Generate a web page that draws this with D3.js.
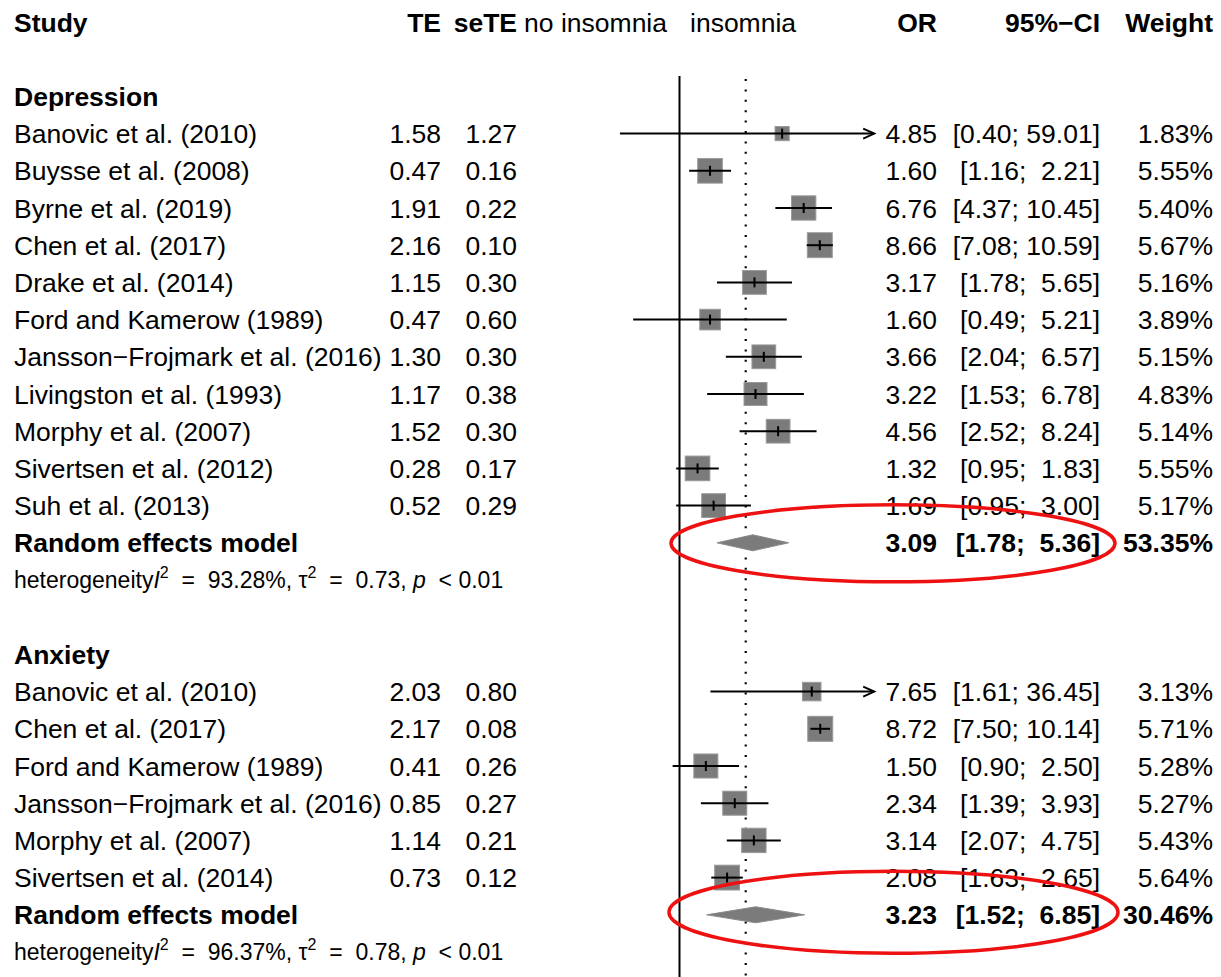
<!DOCTYPE html>
<html><head><meta charset="utf-8">
<script src="https://cdn.jsdelivr.net/npm/d3@7"></script>
<style>
html,body{margin:0;padding:0;background:#fff;}
text{font-family:"Liberation Sans",Arial,Helvetica,sans-serif;white-space:pre;}
</style></head>
<body>
<svg id="c" width="1221" height="977"></svg>
<script>
// ---------- data ----------
const headers = ["Study","TE","seTE","no insomnia","insomnia","OR","95%\u2212CI","Weight"];

const depStudies = ["Banovic et al. (2010)","Buysse et al. (2008)","Byrne et al. (2019)","Chen et al. (2017)","Drake et al. (2014)","Ford and Kamerow (1989)","Jansson\u2212Frojmark et al. (2016)","Livingston et al. (1993)","Morphy et al. (2007)","Sivertsen et al. (2012)","Suh et al. (2013)"];
const depTE   = [1.58,0.47,1.91,2.16,1.15,0.47,1.30,1.17,1.52,0.28,0.52];
const depSeTE = [1.27,0.16,0.22,0.10,0.30,0.60,0.30,0.38,0.30,0.17,0.29];
const depOR   = [4.85,1.60,6.76,8.66,3.17,1.60,3.66,3.22,4.56,1.32,1.69];
const depLo   = [0.40,1.16,4.37,7.08,1.78,0.49,2.04,1.53,2.52,0.95,0.95];
const depHi   = [59.01,2.21,10.45,10.59,5.65,5.21,6.57,6.78,8.24,1.83,3.00];
const depW    = [1.83,5.55,5.40,5.67,5.16,3.89,5.15,4.83,5.14,5.55,5.17];
const depPooled = {or:3.09, lo:1.78, hi:5.36, w:53.35, i2:"93.28%", tau2:"0.73", p:"0.01"};

const anxStudies = ["Banovic et al. (2010)","Chen et al. (2017)","Ford and Kamerow (1989)","Jansson\u2212Frojmark et al. (2016)","Morphy et al. (2007)","Sivertsen et al. (2014)"];
const anxTE   = [2.03,2.17,0.41,0.85,1.14,0.73];
const anxSeTE = [0.80,0.08,0.26,0.27,0.21,0.12];
const anxOR   = [7.65,8.72,1.50,2.34,3.14,2.08];
const anxLo   = [1.61,7.50,0.90,1.39,2.07,1.63];
const anxHi   = [36.45,10.14,2.50,3.93,4.75,2.65];
const anxW    = [3.13,5.71,5.28,5.27,5.43,5.64];
const anxPooled = {or:3.23, lo:1.52, hi:6.85, w:30.46, i2:"96.37%", tau2:"0.78", p:"0.01"};

const overallOR = 2.77;   // dotted reference line
const xLimits = [0.05, 20];

// ---------- layout ----------
const svg = d3.select("#c");
const FS = 26.5, FS2 = 23;
const rowY = d3.scaleLinear().domain([0,1]).range([22, 22+37.2]);
const x = d3.scaleLog().domain(xLimits).range([484.8, 874.2]);
const boxSide = d3.scaleSqrt().domain([0,5.71]).range([0,25]);
const col = {study:14, te:441, sete:517, left:667, right:690, or:937, ci:1100, w:1213};
const f2 = d3.format(".2f");
const pad = (s,n)=> " ".repeat(Math.max(0,n-s.length))+s;
const ciStr = (lo,hi)=> "[" + pad(f2(lo),4) + "; " + pad(f2(hi),5) + "]";

function txt(xp, y, s, opt={}){
  return svg.append("text").attr("x",xp).attr("y",y).attr("dy","0.36em")
    .attr("font-size", opt.size||FS).attr("font-weight", opt.bold?"bold":"normal")
    .attr("text-anchor", opt.anchor||"start").attr("fill","#000").text(s);
}

// header
txt(col.study, rowY(0), headers[0], {bold:true});
txt(col.te, rowY(0), headers[1], {bold:true, anchor:"end"});
txt(col.sete, rowY(0), headers[2], {bold:true, anchor:"end"});
txt(col.left, rowY(0), headers[3], {anchor:"end"});
txt(col.right, rowY(0), headers[4]);
txt(col.or, rowY(0), headers[5], {bold:true, anchor:"end"});
txt(col.ci, rowY(0), headers[6], {bold:true, anchor:"end"});
txt(col.w, rowY(0), headers[7], {bold:true, anchor:"end"});

// reference lines
const gLines = svg.append("g");
gLines.append("line").attr("x1",x(1)).attr("x2",x(1)).attr("y1",76).attr("y2",977)
  .attr("stroke","#000").attr("stroke-width",2);
gLines.append("line").attr("x1",x(overallOR)).attr("x2",x(overallOR)).attr("y1",79).attr("y2",977)
  .attr("stroke","#000").attr("stroke-width",2.2).attr("stroke-dasharray","2 8.4");

function group(label, startRow, studies, te, se, or, lo, hi, w, pooled){
  txt(col.study, rowY(startRow), label, {bold:true});
  studies.forEach((s,i)=>{
    const y = rowY(startRow+1+i);
    txt(col.study, y, s);
    txt(col.te, y, f2(te[i]), {anchor:"end"});
    txt(col.sete, y, f2(se[i]), {anchor:"end"});
    txt(col.or, y, f2(or[i]), {anchor:"end"});
    txt(col.ci, y, ciStr(lo[i],hi[i]), {anchor:"end"});
    txt(col.w, y, f2(w[i])+"%", {anchor:"end"});
    const side = boxSide(w[i]);
    svg.append("rect").attr("x",x(or[i])-side/2).attr("y",y-side/2)
      .attr("width",side).attr("height",side).attr("fill","#7b7b7b").attr("stroke","#9a9a9a").attr("stroke-width",1);
    const xl = x(Math.max(lo[i], xLimits[0])), xr = x(Math.min(hi[i], xLimits[1]));
    svg.append("line").attr("x1",xl).attr("x2",xr).attr("y1",y).attr("y2",y)
      .attr("stroke","#000").attr("stroke-width",2);
    svg.append("line").attr("x1",x(or[i])).attr("x2",x(or[i])).attr("y1",y-5).attr("y2",y+5)
      .attr("stroke","#000").attr("stroke-width",2);
    if (hi[i] > xLimits[1]) {
      svg.append("path").attr("d",`M${xr-11},${y-5}L${xr},${y}L${xr-11},${y+5}`)
        .attr("fill","none").attr("stroke","#000").attr("stroke-width",2);
    }
  });
  const yp = rowY(startRow+1+studies.length);
  txt(col.study, yp, "Random effects model", {bold:true});
  txt(col.or, yp, f2(pooled.or), {bold:true, anchor:"end"});
  txt(col.ci, yp, ciStr(pooled.lo,pooled.hi), {bold:true, anchor:"end"});
  txt(col.w, yp, f2(pooled.w)+"%", {bold:true, anchor:"end"});
  const h = 8;
  svg.append("path").attr("d",`M${x(pooled.lo)},${yp}L${x(pooled.or)},${yp-h}L${x(pooled.hi)},${yp}L${x(pooled.or)},${yp+h}Z`)
    .attr("fill","#7b7b7b").attr("stroke","#8a8a8a").attr("stroke-width",1);
  // heterogeneity
  const yh = rowY(startRow+2+studies.length);
  const t = svg.append("text").attr("x",col.study).attr("y",yh).attr("dy","0.36em").attr("font-size",FS2).attr("fill","#000");
  t.append("tspan").text("heterogeneity");
  t.append("tspan").attr("font-style","italic").text("I");
  t.append("tspan").attr("font-size",16).attr("dy",-10).text("2");
  t.append("tspan").attr("dy",10).text("  =  "+pooled.i2+", ");
  t.append("tspan").text("\u03c4");
  t.append("tspan").attr("font-size",16).attr("dy",-10).text("2");
  t.append("tspan").attr("dy",10).text("  =  "+pooled.tau2+", ");
  t.append("tspan").attr("font-style","italic").text("p");
  t.append("tspan").text("  < "+pooled.p);
  return yp;
}

const yDep = group("Depression", 2, depStudies, depTE, depSeTE, depOR, depLo, depHi, depW, depPooled);
const yAnx = group("Anxiety", 17, anxStudies, anxTE, anxSeTE, anxOR, anxLo, anxHi, anxW, anxPooled);

// red annotation ellipses
svg.append("ellipse").attr("cx",893).attr("cy",yDep+0.5).attr("rx",222).attr("ry",38.5)
  .attr("fill","none").attr("stroke","#ee1111").attr("stroke-width",3.5);
svg.append("ellipse").attr("cx",893.5).attr("cy",yAnx-2.5).attr("rx",224.5).attr("ry",41)
  .attr("fill","none").attr("stroke","#ee1111").attr("stroke-width",3.5);
</script>
</body></html>
